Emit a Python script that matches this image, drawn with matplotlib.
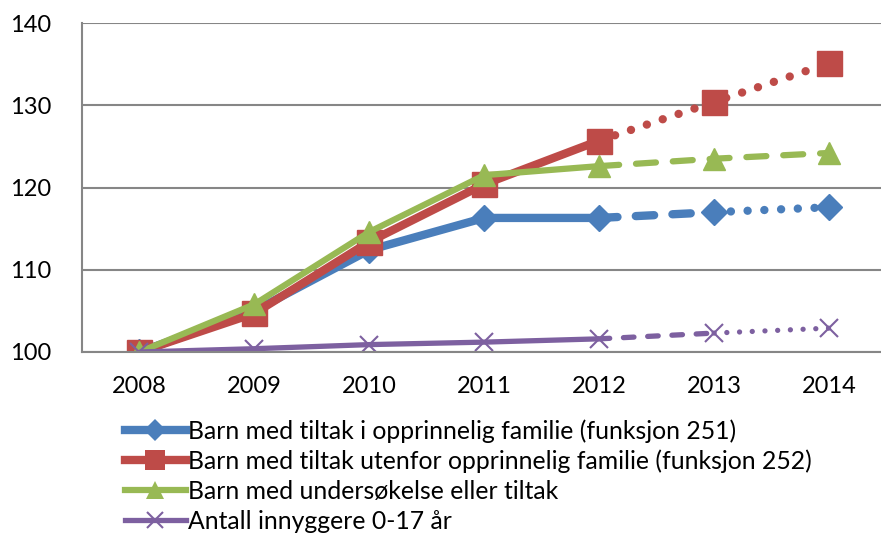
import matplotlib
matplotlib.use("Agg")
import matplotlib.pyplot as plt
from matplotlib.lines import Line2D

plt.rcParams['font.family'] = ['Lato', 'DejaVu Sans']

years = ['2008', '2009', '2010', '2011', '2012', '2013', '2014']
i_familie = [100, 105.0, 112.4, 116.3, 116.3, 117.0, 117.6]
utenfor_familie = [100, 104.7, 113.4, 120.4, 125.7, 130.4, 135.1]
undersokelse = [100, 105.8, 114.6, 121.5, 122.6, 123.5, 124.2]
innbyggere = [100, 100.4, 100.9, 101.2, 101.6, 102.3, 102.9]

labels = ['Barn med tiltak i opprinnelig familie (funksjon 251)',
          'Barn med tiltak utenfor opprinnelig familie (funksjon 252)',
          'Barn med undersøkelse eller tiltak',
          'Antall innyggere 0-17 år']

blue = '#4a7ebb'
red = '#be4b48'
green = '#98b954'
purple = '#7d60a0'

fig = plt.figure(figsize=(8.81, 5.36), dpi=100)
ax = fig.add_axes([82 / 881, 184 / 536, 804.5 / 881, 329 / 536])
x = list(range(len(years)))

dot = (0, (0.01, 2.0))


def draw(vals, color, lw, marker, ms, mew, segs):
    # segs: list of (start, end, linestyle)
    for a, b, ls in segs:
        ax.plot(x[a:b + 1], vals[a:b + 1], color=color, lw=lw, ls=ls,
                dash_capstyle='round', solid_capstyle='butt')
    ax.plot(x, vals, ls='none', marker=marker, ms=ms, color=color,
            markeredgecolor=color, mew=mew)


draw(i_familie, blue, 6, 'D', 13, 1,
     [(0, 4, '-'), (4, 5, (0, (2.2, 2.2))), (5, 6, dot)])
draw(utenfor_familie, red, 6, 's', 18, 1,
     [(0, 4, '-'), (4, 6, dot)])
draw(undersokelse, green, 4.5, '^', 16, 1,
     [(0, 4, '-'), (4, 6, (0, (3.2, 2.7)))])
draw(innbyggere, purple, 3.8, 'x', 13, 1.5,
     [(0, 4, '-'), (4, 5, (0, (2.0, 2.6))), (5, 6, (0, (0.01, 2.4)))])

ax.set_xlim(-0.5, 6.5)
ax.set_ylim(100, 140)
ax.set_yticks([100, 110, 120, 130, 140])
ax.set_xticks(x)
ax.set_xticklabels(years)
ax.tick_params(length=0, labelsize=17, colors='black')
ax.tick_params(axis='y', pad=22)
ax.tick_params(axis='x', pad=17)
ax.yaxis.grid(True, color='#868686', lw=1.5)
ax.set_axisbelow(True)
for s in ['top', 'right']:
    ax.spines[s].set_visible(False)
for s in ['left', 'bottom']:
    ax.spines[s].set_color('#868686')
    ax.spines[s].set_linewidth(1.5)
for lbl in ax.get_yticklabels() + ax.get_xticklabels():
    lbl.set_clip_on(False)

handles = [
    Line2D([], [], color=blue, lw=6, marker='D', ms=11, mew=0),
    Line2D([], [], color=red, lw=6, marker='s', ms=14, mew=0),
    Line2D([], [], color=green, lw=4.5, marker='^', ms=13, mew=0),
    Line2D([], [], color=purple, lw=3.8, marker='x', ms=11, mew=1.5),
]
fig.legend(handles, labels, loc='upper left',
           bbox_to_anchor=(125 / 881, 117 / 536), frameon=False,
           fontsize=17.8, handlelength=2.45, handletextpad=0.1,
           labelspacing=0.28, borderpad=0, borderaxespad=0)

fig.savefig('out.png', dpi=100)
